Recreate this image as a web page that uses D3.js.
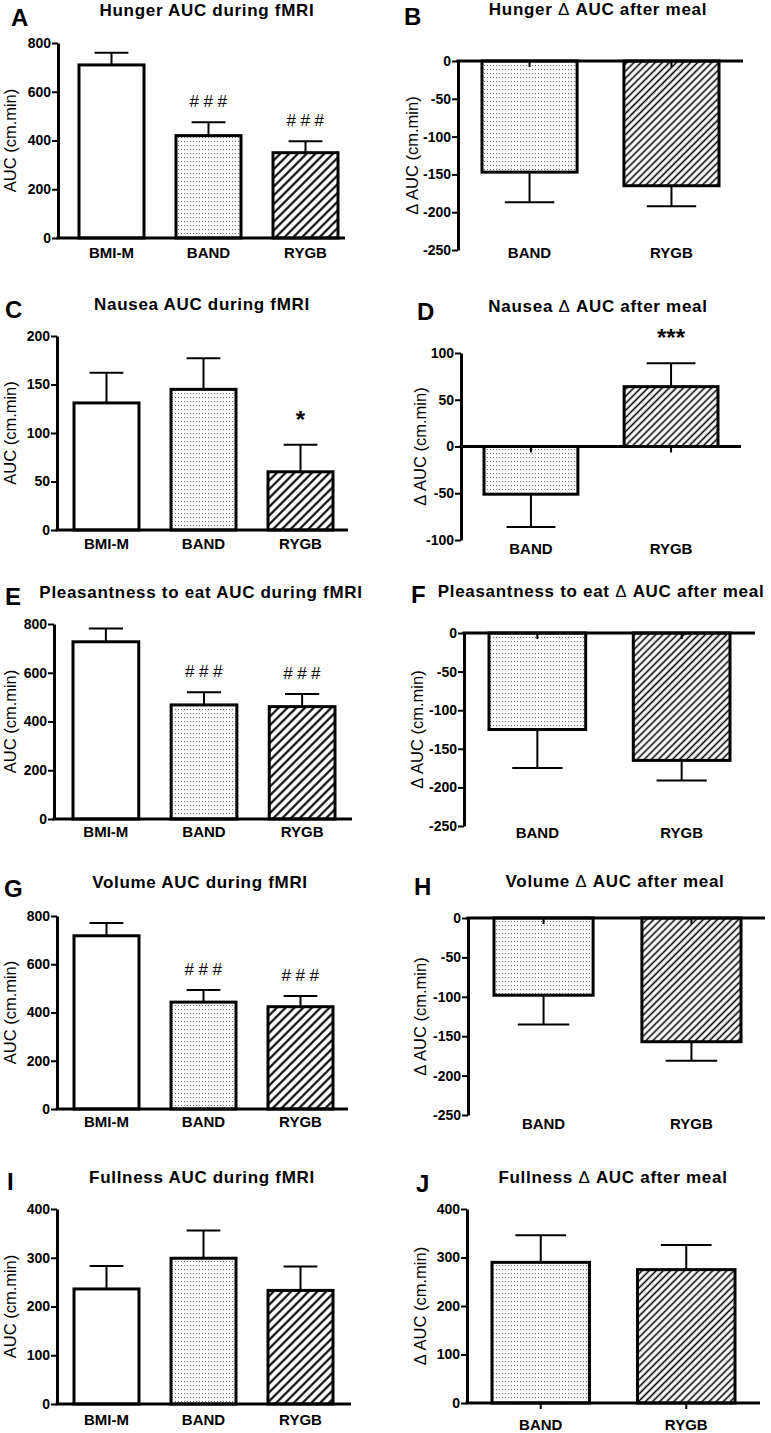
<!DOCTYPE html>
<html><head><meta charset="utf-8">
<script src="https://cdn.jsdelivr.net/npm/d3@7"></script>
<style>
body{margin:0;background:#fff}
svg text{font-family:"Liberation Sans",Arial,Helvetica,sans-serif;fill:#000}
</style>
</head><body>
<svg id="fig" width="771" height="1433"></svg>
<script>
// ---------- data ----------
const groups3 = ["BMI-M", "BAND", "RYGB"];
const groups2 = ["BAND", "RYGB"];

const hungerAUC = [710, 420, 350];
const hungerAUCsem = [50, 55, 47];
const hungerDelta = [-147, -165];
const hungerDeltaSem = [40, 27];

const nauseaAUC = [131, 145, 60];
const nauseaAUCsem = [31, 32, 28];
const nauseaDelta = [-51, 64];
const nauseaDeltaSem = [35, 25];

const pleasAUC = [727, 468, 461];
const pleasAUCsem = [55, 52, 52];
const pleasDelta = [-125, -165];
const pleasDeltaSem = [50, 26];

const volumeAUC = [718, 443, 424];
const volumeAUCsem = [53, 50, 44];
const volumeDelta = [-98, -157];
const volumeDeltaSem = [37, 24];

const fullAUC = [236, 299, 233];
const fullAUCsem = [47, 57, 49];
const fullDelta = [290, 275];
const fullDeltaSem = [56, 51];

const ticks800 = [0, 200, 400, 600, 800];
const ticks200 = [0, 50, 100, 150, 200];
const ticks400 = [0, 100, 200, 300, 400];
const ticksNeg250 = [-250, -200, -150, -100, -50, 0];
const ticks100 = [-100, -50, 0, 50, 100];

const annotHunger = ["", "###", "###"];
const annotNausea = ["", "", "*"];
const annotNauseaDelta = ["", "***"];
const annotPleas = ["", "###", "###"];
const annotVolume = ["", "###", "###"];

const titles = [
  "Hunger AUC during fMRI", "Hunger Δ AUC after meal",
  "Nausea AUC during fMRI", "Nausea Δ AUC after meal",
  "Pleasantness to eat AUC during fMRI", "Pleasantness to eat Δ AUC after meal",
  "Volume AUC during fMRI", "Volume Δ AUC after meal",
  "Fullness AUC during fMRI", "Fullness Δ AUC after meal"
];
const letters = ["A","B","C","D","E","F","G","H","I","J"];
const yLabelAUC = "AUC (cm.min)";
const yLabelDelta = "Δ AUC (cm.min)";

// ---------- layout ----------
const panels = [
  {cats:groups3, vals:hungerAUC, sem:hungerAUCsem, ticks:ticks800, ann:annotHunger, ylab:yLabelAUC,
   lx:11, ly:26, tx:207, ty:16, ax:58, yb:238, yt:43, end:345, bl:79, br:338, xly:258, ylx:10},
  {cats:groups2, vals:hungerDelta, sem:hungerDeltaSem, ticks:ticksNeg250, ann:null, ylab:yLabelDelta,
   lx:404, ly:25, tx:598, ty:15, ax:458, yb:250, yt:61, end:743, bl:482, br:719, xly:258, ylx:412},
  {cats:groups3, vals:nauseaAUC, sem:nauseaAUCsem, ticks:ticks200, ann:annotNausea, ylab:yLabelAUC,
   lx:5, ly:318, tx:202, ty:310, ax:57, yb:530, yt:336, end:348, bl:74, br:333, xly:549, ylx:10},
  {cats:groups2, vals:nauseaDelta, sem:nauseaDeltaSem, ticks:ticks100, ann:annotNauseaDelta, ylab:yLabelDelta,
   lx:417, ly:320, tx:598, ty:312, ax:461, yb:540, yt:353, end:741, bl:484, br:718, xly:554, ylx:420},
  {cats:groups3, vals:pleasAUC, sem:pleasAUCsem, ticks:ticks800, ann:annotPleas, ylab:yLabelAUC,
   lx:5, ly:605, tx:201, ty:598, ax:54, yb:819, yt:624, end:352, bl:73, br:335, xly:837, ylx:10},
  {cats:groups2, vals:pleasDelta, sem:pleasDeltaSem, ticks:ticksNeg250, ann:null, ylab:yLabelDelta,
   lx:411, ly:603, tx:601, ty:597, ax:464, yb:826, yt:633, end:755, bl:489, br:730, xly:838, ylx:417},
  {cats:groups3, vals:volumeAUC, sem:volumeAUCsem, ticks:ticks800, ann:annotVolume, ylab:yLabelAUC,
   lx:4, ly:897, tx:200, ty:888, ax:57, yb:1109, yt:916, end:348, bl:74, br:333, xly:1127, ylx:10},
  {cats:groups2, vals:volumeDelta, sem:volumeDeltaSem, ticks:ticksNeg250, ann:null, ylab:yLabelDelta,
   lx:414, ly:895, tx:615, ty:887, ax:468, yb:1115, yt:918, end:765, bl:494, br:741, xly:1129, ylx:420},
  {cats:groups3, vals:fullAUC, sem:fullAUCsem, ticks:ticks400, ann:null, ylab:yLabelAUC,
   lx:7, ly:1190, tx:202, ty:1183, ax:57, yb:1404, yt:1209, end:351, bl:74, br:333, xly:1425, ylx:10},
  {cats:groups2, vals:fullDelta, sem:fullDeltaSem, ticks:ticks400, ann:null, ylab:yLabelDelta,
   lx:416, ly:1192, tx:613, ty:1183, ax:467, yb:1403, yt:1209, end:760, bl:492, br:735, xly:1430, ylx:420}
];

const svg = d3.select("#fig");
const defs = svg.append("defs");

// dotted fill (BAND)
const dots = defs.append("pattern").attr("id","dots").attr("patternUnits","userSpaceOnUse")
  .attr("width",3).attr("height",4);
dots.append("rect").attr("width",3).attr("height",4).attr("fill","#fbfbfb");
dots.append("rect").attr("x",1).attr("y",1).attr("width",1).attr("height",1).attr("fill","#707070");

// hatch fills (RYGB)
function hatch(id, spacing, w){
  const p = defs.append("pattern").attr("id",id).attr("patternUnits","userSpaceOnUse")
    .attr("width",spacing).attr("height",spacing).attr("patternTransform","rotate(45)");
  p.append("rect").attr("width",spacing).attr("height",spacing).attr("fill","#fff");
  p.append("line").attr("x1",spacing/2).attr("x2",spacing/2).attr("y1",0).attr("y2",spacing)
    .attr("stroke","#000").attr("stroke-width",w);
}
hatch("hatch3", 6.2, 2.1);
hatch("hatch2", 5.0, 1.6);

function fillFor(cat, n){
  if (cat === "BMI-M") return "#fff";
  if (cat === "BAND") return "url(#dots)";
  return n === 3 ? "url(#hatch3)" : "url(#hatch2)";
}

function addTitle(g, text, x, y, size, bold){
  const t = g.append("text").attr("x",x).attr("y",y).attr("text-anchor","middle")
    .attr("font-size",size).attr("font-weight",bold?"bold":"normal").attr("letter-spacing",bold?0.7:0);
  const parts = text.split("Δ");
  parts.forEach((s,i)=>{
    if (i>0) t.append("tspan").attr("font-weight","normal").text("Δ");
    t.append("tspan").text(s);
  });
  return t;
}

panels.forEach((p,i)=>{
  const g = svg.append("g");
  const n = p.cats.length;
  const dom = [d3.min(p.ticks), d3.max(p.ticks)];
  const y = d3.scaleLinear().domain(dom).range([p.yb, p.yt]);
  const pi = 0.33;
  const step = (p.br - p.bl) / (n - pi);
  const x = d3.scaleBand().domain(p.cats)
    .range([p.bl - step*pi/2, p.br + step*pi/2]).paddingInner(pi).paddingOuter(pi/2);
  const bw = x.bandwidth();
  const y0 = y(0);
  const data = p.cats.map((c,k)=>({c, v:p.vals[k], e:p.sem[k], a:p.ann ? p.ann[k] : ""}));

  // error bars (one-sided, outward)
  data.forEach(d=>{
    const cx = x(d.c) + bw/2;
    const tip = d.v >= 0 ? d.v + d.e : d.v - d.e;
    g.append("line").attr("x1",cx).attr("x2",cx).attr("y1",y(d.v)).attr("y2",y(tip))
      .attr("stroke","#000").attr("stroke-width",2);
    g.append("line").attr("x1",cx - bw*0.26).attr("x2",cx + bw*0.26).attr("y1",y(tip)).attr("y2",y(tip))
      .attr("stroke","#000").attr("stroke-width",2);
    if (d.a){
      const star = d.a.indexOf("*") >= 0;
      g.append("text").attr("x", cx + (star?0:2)).attr("y", y(tip) - (star?17:15))
        .attr("text-anchor","middle").attr("font-size", star?24:17)
        .attr("font-weight", star?"bold":"normal").attr("letter-spacing", star?0:4.5)
        .text(d.a);
    }
  });

  // bars
  g.selectAll("rect.bar").data(data).join("rect").attr("class","bar")
    .attr("x", d=>x(d.c)).attr("width", bw)
    .attr("y", d=>Math.min(y(d.v), y0)).attr("height", d=>Math.abs(y(d.v)-y0))
    .attr("fill", d=>fillFor(d.c, n)).attr("stroke","#000").attr("stroke-width",3);

  // y axis
  const ya = g.append("g").attr("transform",`translate(${p.ax},0)`)
    .call(d3.axisLeft(y).tickValues(p.ticks).tickSize(6).tickSizeOuter(0).tickPadding(1)
      .tickFormat(d=>String(d)));
  ya.select(".domain").attr("stroke-width",3).attr("stroke","#000");
  ya.selectAll(".tick line").attr("stroke-width",2).attr("stroke","#000");
  ya.selectAll(".tick text").attr("font-size",14).attr("font-weight","bold")
    .attr("font-family","'Liberation Sans',Arial,sans-serif").attr("fill","#000");

  // x axis line at zero
  g.append("line").attr("x1",p.ax - 1.5).attr("x2",p.end).attr("y1",y0).attr("y2",y0)
    .attr("stroke","#000").attr("stroke-width",3);
  if (n === 2){
    data.forEach(d=>{
      const cx = x(d.c) + bw/2;
      g.append("line").attr("x1",cx).attr("x2",cx).attr("y1",y0).attr("y2",y0+6)
        .attr("stroke","#000").attr("stroke-width",2);
    });
  }
  // x labels
  g.selectAll("text.xl").data(data).join("text").attr("class","xl")
    .attr("x", d=>x(d.c)+bw/2).attr("y", p.xly).attr("text-anchor","middle")
    .attr("font-size",15).attr("font-weight","bold").text(d=>d.c);

  // y label
  g.append("text").attr("transform",`translate(${p.ylx},${(p.yb+p.yt)/2}) rotate(-90)`)
    .attr("text-anchor","middle").attr("dy","0.35em").attr("font-size",16.5).text(p.ylab);

  // title and panel letter
  addTitle(g, titles[i], p.tx, p.ty, 17, true);
  g.append("text").attr("x",p.lx).attr("y",p.ly).attr("font-size",24).attr("font-weight","bold").text(letters[i]);
});
</script>
</body></html>
